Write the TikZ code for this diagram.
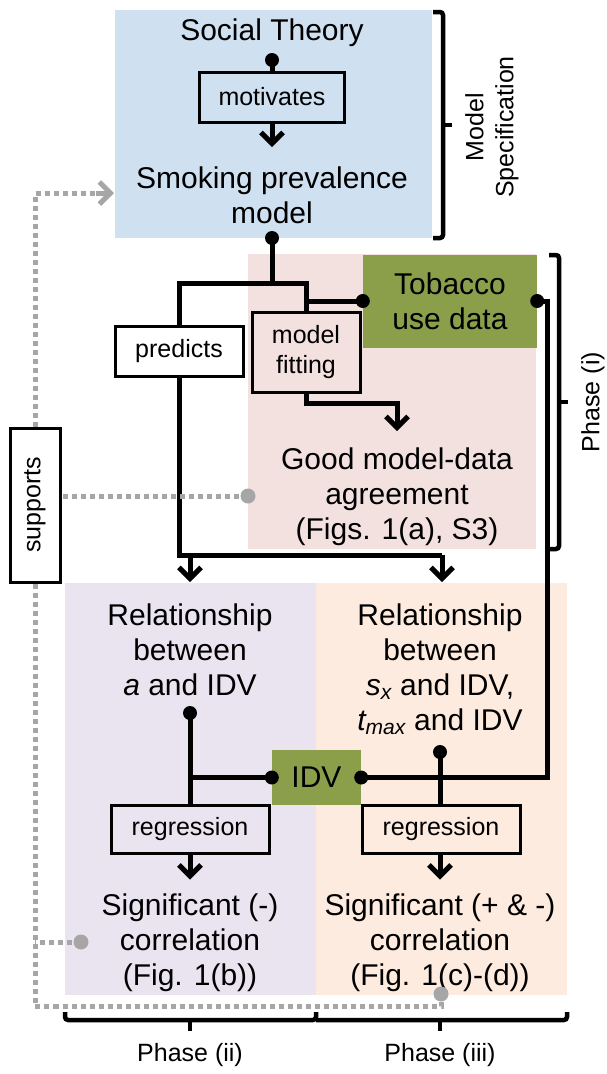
\documentclass[tikz,border=0pt]{standalone}
\usepackage{fontspec}
\setmainfont{Liberation Sans}
\usetikzlibrary{arrows.meta}
\definecolor{bluebg}{HTML}{CFE0F1}
\definecolor{pinkbg}{HTML}{F3E1DF}
\definecolor{greenbg}{HTML}{8B9F4B}
\definecolor{lavbg}{HTML}{E9E4EF}
\definecolor{peachbg}{HTML}{FDEBDF}
\definecolor{dotgray}{HTML}{A6A6A6}
\begin{document}
\begin{tikzpicture}[x=1pt,y=-1pt,
  big/.style={font=\fontsize{30}{35}\selectfont, align=center, inner sep=0pt},
  small/.style={font=\fontsize{25}{30}\selectfont, align=center, inner sep=0pt},
  lbox/.style={draw, line width=3pt, font=\fontsize{25}{30}\selectfont, align=center, inner sep=0pt},
  greenbox/.style={fill=greenbg, font=\fontsize{30}{35}\selectfont, align=center, inner sep=0pt},
  conn/.style={line width=5pt},
  arr/.style={line width=5pt, -{Straight Barb[length=11pt,width=22pt]}},
  gdot/.style={dotgray, line width=5pt, dash pattern=on 5pt off 4pt},
  brace/.style={line width=4.5pt, rounded corners=3pt},
  bdot/.style={fill=black},
  gcirc/.style={fill=dotgray}]
\useasboundingbox (0,0) rectangle (606,1074);
% backgrounds
\fill[bluebg] (115,10) rectangle (432,238);
\fill[pinkbg] (248,254) rectangle (536,549);
\fill[lavbg] (65,583) rectangle (316,995);
\fill[peachbg] (316,583) rectangle (567,995);
% nodes
\node[greenbox, minimum width=174pt, minimum height=93pt] (tob) at (450,301) {Tobacco\\use data};
\node[greenbox, minimum width=89pt, minimum height=55pt] (idv) at (316.5,777.5) {IDV};
\node[big] (soc) at (272,33) {Social Theory};
\node[lbox, minimum width=145pt, minimum height=50pt] (mot) at (272,97) {motivates};
\node[big] (smk) at (272,195) {Smoking prevalence\\model};
\node[lbox, minimum width=128pt, minimum height=50pt] (pred) at (179,351) {predicts};
\node[lbox, minimum width=108pt, minimum height=80pt] (fit) at (306,352.5) {model\\fitting};
\node[big] (good) at (397,497) {Good model-data\\agreement\\(Figs. 1(a), S3)};
\node[big] (rela) at (190,650) {Relationship\\between\\\textit{a} and IDV};
\node[big] (relb) at (440,669) {Relationship\\between\\\textit{s\textsubscript{x}} and IDV,\\\textit{t\textsubscript{max}} and IDV};
\node[lbox, minimum width=158pt, minimum height=48pt] (reg1) at (190,829) {regression};
\node[lbox, minimum width=158pt, minimum height=48pt] (reg2) at (441,829) {regression};
\node[big] (sig1) at (190,943) {Significant (-)\\correlation\\(Fig. 1(b))};
\node[big] (sig2) at (440,943) {Significant (+ \& -)\\correlation\\(Fig. 1(c)-(d))};
\node[lbox, rotate=90, minimum width=154pt, minimum height=50pt] (sup) at (35,505) {supports};
\node[small, rotate=90] (ms) at (492,127) {Model\\Specification};
\node[small, rotate=90] (p1) at (593,402) {Phase (i)};
\node[small] (p2) at (190,1055) {Phase (ii)};
\node[small] (p3) at (440,1055) {Phase (iii)};
% coordinates
\coordinate (sdot) at (272,60);
\coordinate (bdt) at (272,238);
\coordinate (j1) at (272,283);
\coordinate (j3) at (442,555);
\coordinate (la) at (190,555);
\coordinate (rr) at (547,640);
\coordinate (adot) at (190,713);
\coordinate (sdot2) at (440,752);
\coordinate (g1) at (248,496);
\coordinate (g2) at (81,942);
\coordinate (g3) at (441,994);
% connectors
\draw[conn] (sdot) -- (mot.north);
\draw[arr] (mot.south) -- (272,147);
\draw[conn] (bdt) -- (j1) -| (pred.north);
\draw[conn] (j1) -| (fit.north);
\draw[conn] (fit.north |- tob.west) -- (tob.west);
\draw[conn] (pred.south) |- (j3);
\draw[arr] (la) -- (190,582);
\draw[arr] (j3) -- (442,582);
\draw[arr] (fit.south) |- (397,403) -- (397,431);
\draw[conn] (tob.east) -| (rr) |- (idv.east);
\draw[conn] (idv.west) -- (idv.west -| adot);
\draw[conn] (adot) -- (reg1.north);
\draw[conn] (sdot2) -- (sdot2 |- reg2.north);
\draw[arr] (reg1.south) -- ++(0,25);
\draw[arr] (sdot2 |- reg2.south) -- ++(0,25);
% dots
\foreach \p in {sdot,bdt,tob.west,tob.east,adot,sdot2,idv.west,idv.east}
  \fill[bdot] (\p) circle[radius=7pt];
% gray dotted
\draw[gdot] (sup.east) -- (35,193) -- (100,193);
\draw[dotgray, line width=5pt, -{Straight Barb[length=11pt,width=22pt]}] (96,193) -- (114,193);
\draw[gdot] (sup.west) -- (35,1006) -| (g3);
\draw[gdot] (g1) -- (g1 -| sup.south);
\draw[gdot] (g2) -- (35,942);
\foreach \p in {g1,g2,g3}
  \fill[gcirc] (\p) circle[radius=7.5pt];
% braces
\draw[brace] (433,12) -- (443,12) -- (443,238) -- (433,238);
\draw[brace] (443,125) -- (452,125);
\draw[brace] (549,255) -- (559,255) -- (559,549) -- (549,549);
\draw[brace] (559,402) -- (568,402);
\draw[brace] (65,1012) -- (65,1020) -- (316,1020) -- (316,1012);
\draw[brace] (316,1020) -- (567,1020) -- (567,1012);
\draw[brace] (190,1020) -- (190,1031);
\draw[brace] (440,1020) -- (440,1031);
\end{tikzpicture}
\end{document}
